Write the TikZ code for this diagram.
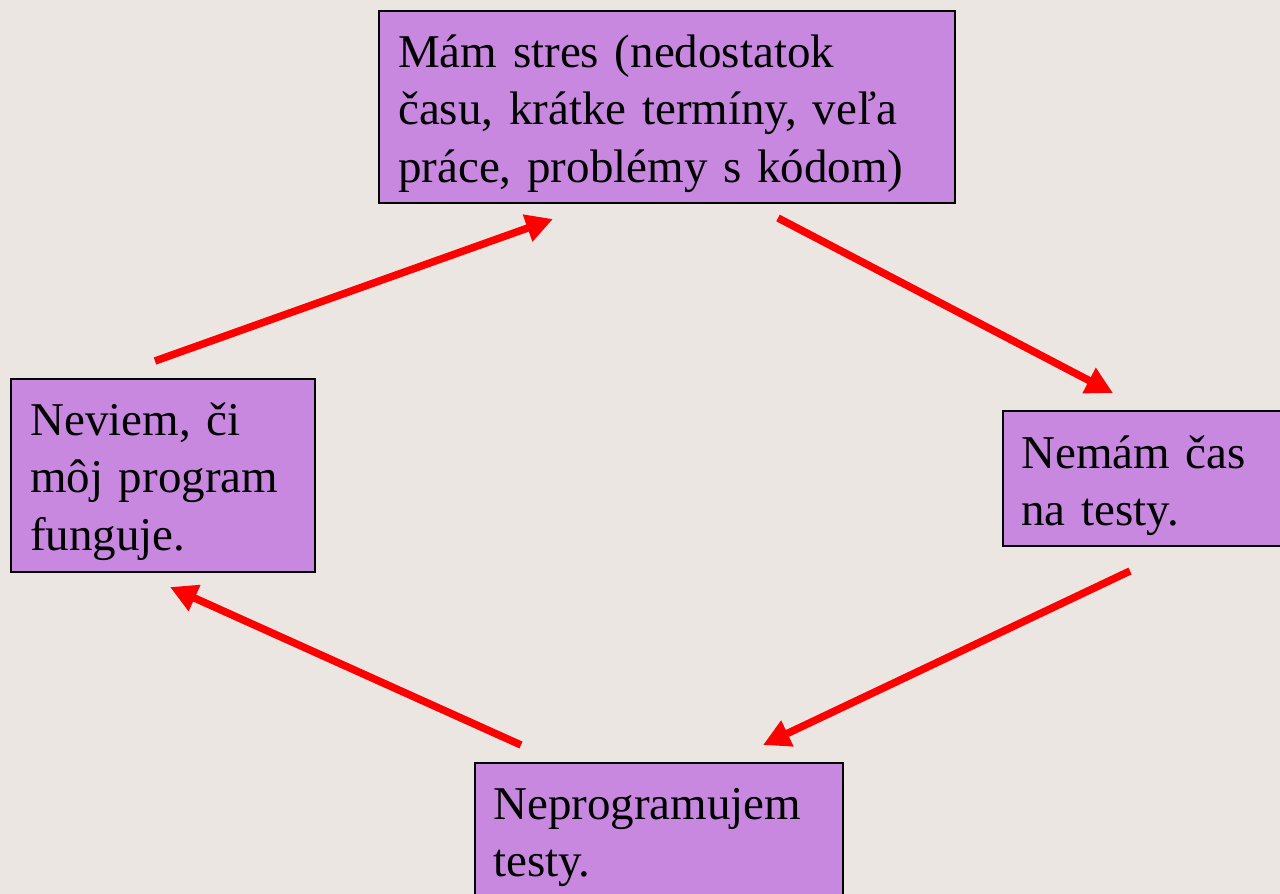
\documentclass[tikz,border=0pt]{standalone}
\usepackage{fontspec}
\setmainfont{Liberation Serif}
\usetikzlibrary{arrows.meta,calc}
\definecolor{paper}{HTML}{EBE6E2}
\definecolor{boxfill}{HTML}{C888E0}
\definecolor{flow}{HTML}{FF0000}
\newcommand{\firstrule}{\rule{0pt}{40pt}}
\begin{document}
\begin{tikzpicture}[x=1pt,y=-1pt,
  panel/.style={draw=black,line width=2pt,fill=boxfill,rectangle,anchor=north west,inner sep=0pt},
  label/.style={anchor=north west,inner sep=0pt,align=left,text width=#1,
    font=\fontsize{47}{57.5}\selectfont},
  flowarrow/.style={draw=flow,line width=7.5pt,
    -{Triangle[length=27pt,width=27pt]}}]
  \fill[paper] (0,0) rectangle (1280,894);
  \useasboundingbox (0,0) rectangle (1280,894);
  \clip (0,0) rectangle (1280,894);

  % boxes of the cycle
  \node[panel,minimum width=576pt,minimum height=192pt] (stress) at (378,10) {};
  \node[panel,minimum width=300pt,minimum height=135pt] (notime) at (1002,410) {};
  \node[panel,minimum width=368pt,minimum height=160pt] (notests) at (474,762) {};
  \node[panel,minimum width=304pt,minimum height=193pt] (unsure) at (10,378) {};

  % texts inside the boxes
  \node[label=560pt] (stressT) at (398,27) {\firstrule Mám stres (nedostatok\\ času, krátke termíny, veľa\\ práce, problémy s kódom)};
  \node[label=260pt] (notimeT) at (1021,428) {\firstrule Nemám čas\\ na testy.};
  \node[label=340pt] (notestsT) at (493,779) {\firstrule Neprogramujem\\ testy.};
  \node[label=280pt] (unsureT) at (30,395) {\firstrule Neviem, či\\ môj program\\ funguje.};

  % arrow ends
  \coordinate (a1s) at (155,361);  \coordinate (a1e) at (553,219);
  \coordinate (a2s) at (778,218);  \coordinate (a2e) at (1113,393);
  \coordinate (a3s) at (1130,571); \coordinate (a3e) at (763,745);
  \coordinate (a4s) at (521,745);  \coordinate (a4e) at (170,587);

  \draw[flowarrow] (a1s) -- (a1e);
  \draw[flowarrow] (a2s) -- (a2e);
  \draw[flowarrow] (a3s) -- (a3e);
  \draw[flowarrow] (a4s) -- (a4e);
\end{tikzpicture}
\end{document}
